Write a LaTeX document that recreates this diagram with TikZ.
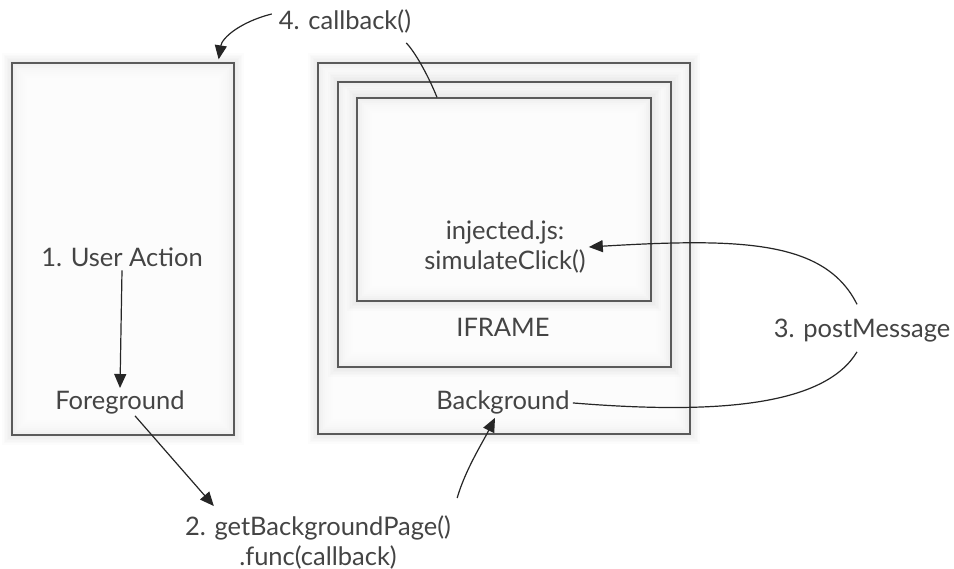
\documentclass[tikz,border=0pt]{standalone}
\usepackage{fontspec}
\setmainfont{Lato}
\usetikzlibrary{arrows.meta,calc,backgrounds}

\definecolor{txt}{HTML}{444444}
\definecolor{ink}{HTML}{262626}
\definecolor{frame}{HTML}{5A5A5A}

\tikzset{
  lbl/.style={text=txt, inner sep=3pt, font=\fontsize{25.5}{30}\selectfont},
  panel/.style={draw=frame, line width=1.3pt, inner sep=0pt, rectangle},
  link/.style={draw=ink, line width=1.2pt},
  arr/.style={link, -{Triangle[length=14pt,width=12pt]}}
}

% soft halo outside and fading tint inside a panel
\newcommand\panelglow[1]{%
  \foreach \k in {1,...,6}
    \fill[black, opacity=0.012] ([shift={(-\k*1.5,-\k*1.5)}]#1.north west)
       rectangle ([shift={(\k*1.5,\k*1.5)}]#1.south east);
  \fill[gray!16] (#1.north west) rectangle (#1.south east);
  \foreach \k in {1,...,12}
    \fill[white, opacity=0.26] ([shift={(\k*2,\k*2)}]#1.north west)
       rectangle ([shift={(-\k*2,-\k*2)}]#1.south east);
}

\begin{document}
\begin{tikzpicture}[x=1pt,y=-1pt]
\useasboundingbox (0,0) rectangle (954,569);

% panels
\node[panel, minimum width=222pt, minimum height=372pt] (fgbox) at (123,249) {};
\node[panel, minimum width=372pt, minimum height=371pt] (bgbox) at (504,248.5) {};
\node[panel, minimum width=333pt, minimum height=285pt] (ifbox) at (504.5,224.5) {};
\node[panel, minimum width=294pt, minimum height=203pt] (injbox) at (504,199.5) {};

\begin{scope}[on background layer]
  \fill[white] (0,0) rectangle (954,569);
  \panelglow{fgbox}
  \panelglow{bgbox}
  \panelglow{ifbox}
  \panelglow{injbox}
\end{scope}

% labels
\node[lbl, anchor=base] (ua) at (122,267) {1. User Action};
\node[lbl, anchor=base] (fg) at (120,410) {Foreground};
\node[lbl, align=center] (inj) at (505,247) {injected.js:\\simulateClick()};
\node[lbl, anchor=base] (iframe) at (503,337) {IFRAME};
\node[lbl, anchor=base] (bg) at (503,410) {Background};
\node[lbl, anchor=base] (pm) at (862,338) {3. postMessage};
\node[lbl, align=center] (gbp) at (318,542) {2. getBackgroundPage()\\.func(callback)};
\node[lbl, anchor=base] (cb) at (345,30) {4. callback()};

% connectors
\draw[arr] (ua.south) -- (fg.north);
\draw[arr] ($(fg.south)+(15,-2)$) -- ($(gbp.north west)+(32,-6)$);
\draw[arr] ($(gbp.north east)+(3,-14)$) .. controls +(8,-28) and +(-12,24) .. ($(bg.south)+(-8,0)$);
\draw[link] (bg.east) .. controls (720,415) and (825,405) .. ($(pm.south)+(-5,6)$);
\draw[arr] ($(pm.north)+(-5,-12)$) .. controls (825,240) and (740,238) .. (inj.east);
\draw[link] ($(cb.south east)+(-8,6)$) .. controls (415,52) and (428,75) .. ($(injbox.north)+(-67,0)$);
\draw[arr] ($(cb.west)+(-4,-8)$) .. controls (240,22) and (222,38) .. ($(fgbox.north east)+(-16,-3)$);
\end{tikzpicture}
\end{document}
